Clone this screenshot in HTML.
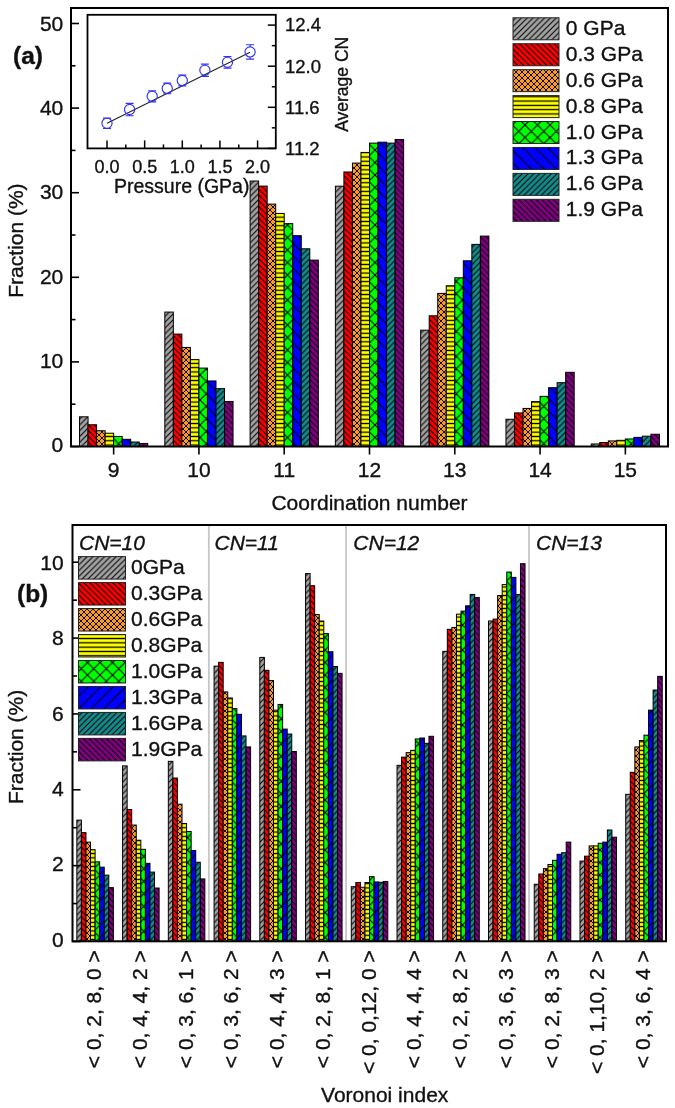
<!DOCTYPE html>
<html><head><meta charset="utf-8"><style>
html,body{margin:0;padding:0;background:#fff;overflow:hidden;width:675px;height:1108px;}
svg{display:block;will-change:transform;}
text{font-family:"Liberation Sans", sans-serif;fill:#111;stroke:#111;stroke-width:0.35px;}
</style></head><body>
<svg width="675" height="1108" viewBox="0 0 675 1108">
<defs>
<pattern id="pa0" patternUnits="userSpaceOnUse" width="5.8" height="5.8"><rect x="0" y="0" width="5.8" height="5.8" fill="#a3a3a3"/><path d="M0,5.8 L5.8,0 M-2.9,2.9 L2.9,-2.9 M2.9,8.7 L8.7,2.9" stroke="#000" stroke-width="1.05" fill="none"/></pattern>
<pattern id="pb0" patternUnits="userSpaceOnUse" width="5.8" height="5.8"><rect x="0" y="0" width="5.8" height="5.8" fill="#a3a3a3"/><path d="M0,5.8 L5.8,0 M-2.9,2.9 L2.9,-2.9 M2.9,8.7 L8.7,2.9" stroke="#000" stroke-width="1.05" fill="none"/></pattern>
<pattern id="pa1" patternUnits="userSpaceOnUse" width="5.8" height="5.8"><rect x="0" y="0" width="5.8" height="5.8" fill="#ff0000"/><path d="M0,0 L5.8,5.8 M-2.9,2.9 L2.9,8.7 M2.9,-2.9 L8.7,2.9" stroke="#000" stroke-width="1.05" fill="none"/></pattern>
<pattern id="pb1" patternUnits="userSpaceOnUse" width="5.8" height="5.8"><rect x="0" y="0" width="5.8" height="5.8" fill="#ff0000"/><path d="M0,0 L5.8,5.8 M-2.9,2.9 L2.9,8.7 M2.9,-2.9 L8.7,2.9" stroke="#000" stroke-width="1.05" fill="none"/></pattern>
<pattern id="pa2" patternUnits="userSpaceOnUse" width="6.0" height="6.0"><rect x="0" y="0" width="6.0" height="6.0" fill="#f59a30"/><path d="M0,6.0 L6.0,0 M-3.0,3.0 L3.0,-3.0 M3.0,9.0 L9.0,3.0 M0,0 L6.0,6.0 M-3.0,3.0 L3.0,9.0 M3.0,-3.0 L9.0,3.0" stroke="#000" stroke-width="0.9" fill="none"/></pattern>
<pattern id="pb2" patternUnits="userSpaceOnUse" width="6.0" height="6.0"><rect x="0" y="0" width="6.0" height="6.0" fill="#f59a30"/><path d="M0,6.0 L6.0,0 M-3.0,3.0 L3.0,-3.0 M3.0,9.0 L9.0,3.0 M0,0 L6.0,6.0 M-3.0,3.0 L3.0,9.0 M3.0,-3.0 L9.0,3.0" stroke="#000" stroke-width="0.9" fill="none"/></pattern>
<pattern id="pa3" patternUnits="userSpaceOnUse" width="4.3" height="4.3"><rect x="0" y="0" width="4.3" height="4.3" fill="#ffff00"/><path d="M-1,2.15 L5.3,2.15" stroke="#000" stroke-width="1.3" fill="none"/></pattern>
<pattern id="pb3" patternUnits="userSpaceOnUse" width="4.3" height="4.3"><rect x="0" y="0" width="4.3" height="4.3" fill="#ffff00"/><path d="M-1,2.15 L5.3,2.15" stroke="#000" stroke-width="1.3" fill="none"/></pattern>
<pattern id="pa4" patternUnits="userSpaceOnUse" width="12.5" height="12.5"><rect x="0" y="0" width="12.5" height="12.5" fill="#00ff00"/><path d="M0,12.5 L12.5,0 M-6.25,6.25 L6.25,-6.25 M6.25,18.75 L18.75,6.25 M0,0 L12.5,12.5 M-6.25,6.25 L6.25,18.75 M6.25,-6.25 L18.75,6.25" stroke="#000" stroke-width="1.05" fill="none"/></pattern>
<pattern id="pb4" patternUnits="userSpaceOnUse" width="12.5" height="12.5"><rect x="0" y="0" width="12.5" height="12.5" fill="#00ff00"/><path d="M0,12.5 L12.5,0 M-6.25,6.25 L6.25,-6.25 M6.25,18.75 L18.75,6.25 M0,0 L12.5,12.5 M-6.25,6.25 L6.25,18.75 M6.25,-6.25 L18.75,6.25" stroke="#000" stroke-width="1.05" fill="none"/></pattern>
<pattern id="pa5" patternUnits="userSpaceOnUse" width="12.5" height="12.5"><rect x="0" y="0" width="12.5" height="12.5" fill="#0000ff"/><path d="M0,0 L12.5,12.5 M-6.25,6.25 L6.25,18.75 M6.25,-6.25 L18.75,6.25" stroke="#000" stroke-width="1.05" fill="none"/></pattern>
<pattern id="pb5" patternUnits="userSpaceOnUse" width="12.5" height="12.5"><rect x="0" y="0" width="12.5" height="12.5" fill="#0000ff"/><path d="M0,12.5 L12.5,0 M-6.25,6.25 L6.25,-6.25 M6.25,18.75 L18.75,6.25" stroke="#000" stroke-width="1.05" fill="none"/></pattern>
<pattern id="pa6" patternUnits="userSpaceOnUse" width="5.8" height="5.8"><rect x="0" y="0" width="5.8" height="5.8" fill="#148c8c"/><path d="M0,5.8 L5.8,0 M-2.9,2.9 L2.9,-2.9 M2.9,8.7 L8.7,2.9" stroke="#000" stroke-width="1.05" fill="none"/></pattern>
<pattern id="pb6" patternUnits="userSpaceOnUse" width="5.8" height="5.8"><rect x="0" y="0" width="5.8" height="5.8" fill="#148c8c"/><path d="M0,5.8 L5.8,0 M-2.9,2.9 L2.9,-2.9 M2.9,8.7 L8.7,2.9" stroke="#000" stroke-width="1.05" fill="none"/></pattern>
<pattern id="pa7" patternUnits="userSpaceOnUse" width="5.8" height="5.8"><rect x="0" y="0" width="5.8" height="5.8" fill="#820082"/><path d="M0,0 L5.8,5.8 M-2.9,2.9 L2.9,8.7 M2.9,-2.9 L8.7,2.9" stroke="#000" stroke-width="1.05" fill="none"/></pattern>
<pattern id="pb7" patternUnits="userSpaceOnUse" width="5.8" height="5.8"><rect x="0" y="0" width="5.8" height="5.8" fill="#820082"/><path d="M0,0 L5.8,5.8 M-2.9,2.9 L2.9,8.7 M2.9,-2.9 L8.7,2.9" stroke="#000" stroke-width="1.05" fill="none"/></pattern>
</defs>
<rect x="0" y="0" width="675" height="1108" fill="#fff"/>
<rect x="79.53" y="416.81" width="8.53" height="29.69" fill="url(#pa0)" stroke="#000" stroke-width="1"/>
<rect x="88.06" y="424.76" width="8.53" height="21.74" fill="url(#pa1)" stroke="#000" stroke-width="1"/>
<rect x="96.59" y="430.76" width="8.53" height="15.74" fill="url(#pa2)" stroke="#000" stroke-width="1"/>
<rect x="105.11" y="433.22" width="8.53" height="13.28" fill="url(#pa3)" stroke="#000" stroke-width="1"/>
<rect x="113.64" y="436.43" width="8.53" height="10.07" fill="url(#pa4)" stroke="#000" stroke-width="1"/>
<rect x="122.17" y="439.31" width="8.53" height="7.19" fill="url(#pa5)" stroke="#000" stroke-width="1"/>
<rect x="130.7" y="442.02" width="8.53" height="4.48" fill="url(#pa6)" stroke="#000" stroke-width="1"/>
<rect x="139.23" y="443.45" width="8.53" height="3.05" fill="url(#pa7)" stroke="#000" stroke-width="1"/>
<rect x="164.81" y="312.07" width="8.53" height="134.43" fill="url(#pa0)" stroke="#000" stroke-width="1"/>
<rect x="173.34" y="334.07" width="8.53" height="112.43" fill="url(#pa1)" stroke="#000" stroke-width="1"/>
<rect x="181.87" y="347.43" width="8.53" height="99.07" fill="url(#pa2)" stroke="#000" stroke-width="1"/>
<rect x="190.4" y="359.62" width="8.53" height="86.88" fill="url(#pa3)" stroke="#000" stroke-width="1"/>
<rect x="198.93" y="368.08" width="8.53" height="78.42" fill="url(#pa4)" stroke="#000" stroke-width="1"/>
<rect x="207.46" y="380.94" width="8.53" height="65.56" fill="url(#pa5)" stroke="#000" stroke-width="1"/>
<rect x="215.99" y="388.63" width="8.53" height="57.87" fill="url(#pa6)" stroke="#000" stroke-width="1"/>
<rect x="224.51" y="401.49" width="8.53" height="45.01" fill="url(#pa7)" stroke="#000" stroke-width="1"/>
<rect x="250.1" y="181.03" width="8.53" height="265.47" fill="url(#pa0)" stroke="#000" stroke-width="1"/>
<rect x="258.63" y="186.1" width="8.53" height="260.4" fill="url(#pa1)" stroke="#000" stroke-width="1"/>
<rect x="267.16" y="204.12" width="8.53" height="242.38" fill="url(#pa2)" stroke="#000" stroke-width="1"/>
<rect x="275.69" y="213.43" width="8.53" height="233.07" fill="url(#pa3)" stroke="#000" stroke-width="1"/>
<rect x="284.21" y="223.66" width="8.53" height="222.84" fill="url(#pa4)" stroke="#000" stroke-width="1"/>
<rect x="292.74" y="235.68" width="8.53" height="210.82" fill="url(#pa5)" stroke="#000" stroke-width="1"/>
<rect x="301.27" y="248.79" width="8.53" height="197.71" fill="url(#pa6)" stroke="#000" stroke-width="1"/>
<rect x="309.8" y="260.13" width="8.53" height="186.37" fill="url(#pa7)" stroke="#000" stroke-width="1"/>
<rect x="335.39" y="186.19" width="8.53" height="260.31" fill="url(#pa0)" stroke="#000" stroke-width="1"/>
<rect x="343.91" y="171.97" width="8.53" height="274.53" fill="url(#pa1)" stroke="#000" stroke-width="1"/>
<rect x="352.44" y="163.09" width="8.53" height="283.41" fill="url(#pa2)" stroke="#000" stroke-width="1"/>
<rect x="360.97" y="152.43" width="8.53" height="294.07" fill="url(#pa3)" stroke="#000" stroke-width="1"/>
<rect x="369.5" y="143.12" width="8.53" height="303.38" fill="url(#pa4)" stroke="#000" stroke-width="1"/>
<rect x="378.03" y="142.19" width="8.53" height="304.31" fill="url(#pa5)" stroke="#000" stroke-width="1"/>
<rect x="386.56" y="143.12" width="8.53" height="303.38" fill="url(#pa6)" stroke="#000" stroke-width="1"/>
<rect x="395.09" y="139.49" width="8.53" height="307.01" fill="url(#pa7)" stroke="#000" stroke-width="1"/>
<rect x="420.67" y="330.17" width="8.53" height="116.33" fill="url(#pa0)" stroke="#000" stroke-width="1"/>
<rect x="429.2" y="315.79" width="8.53" height="130.71" fill="url(#pa1)" stroke="#000" stroke-width="1"/>
<rect x="437.73" y="293.37" width="8.53" height="153.13" fill="url(#pa2)" stroke="#000" stroke-width="1"/>
<rect x="446.26" y="285.76" width="8.53" height="160.74" fill="url(#pa3)" stroke="#000" stroke-width="1"/>
<rect x="454.79" y="277.81" width="8.53" height="168.69" fill="url(#pa4)" stroke="#000" stroke-width="1"/>
<rect x="463.31" y="260.8" width="8.53" height="185.7" fill="url(#pa5)" stroke="#000" stroke-width="1"/>
<rect x="471.84" y="244.39" width="8.53" height="202.11" fill="url(#pa6)" stroke="#000" stroke-width="1"/>
<rect x="480.37" y="236.1" width="8.53" height="210.4" fill="url(#pa7)" stroke="#000" stroke-width="1"/>
<rect x="505.96" y="419.26" width="8.53" height="27.24" fill="url(#pa0)" stroke="#000" stroke-width="1"/>
<rect x="514.49" y="412.91" width="8.53" height="33.59" fill="url(#pa1)" stroke="#000" stroke-width="1"/>
<rect x="523.01" y="408.43" width="8.53" height="38.07" fill="url(#pa2)" stroke="#000" stroke-width="1"/>
<rect x="531.54" y="401.58" width="8.53" height="44.92" fill="url(#pa3)" stroke="#000" stroke-width="1"/>
<rect x="540.07" y="396.33" width="8.53" height="50.17" fill="url(#pa4)" stroke="#000" stroke-width="1"/>
<rect x="548.6" y="387.7" width="8.53" height="58.8" fill="url(#pa5)" stroke="#000" stroke-width="1"/>
<rect x="557.13" y="382.71" width="8.53" height="63.79" fill="url(#pa6)" stroke="#000" stroke-width="1"/>
<rect x="565.66" y="372.31" width="8.53" height="74.19" fill="url(#pa7)" stroke="#000" stroke-width="1"/>
<rect x="591.24" y="443.96" width="8.53" height="2.54" fill="url(#pa0)" stroke="#000" stroke-width="1"/>
<rect x="599.77" y="442.52" width="8.53" height="3.98" fill="url(#pa1)" stroke="#000" stroke-width="1"/>
<rect x="608.3" y="440.92" width="8.53" height="5.58" fill="url(#pa2)" stroke="#000" stroke-width="1"/>
<rect x="616.83" y="440.32" width="8.53" height="6.18" fill="url(#pa3)" stroke="#000" stroke-width="1"/>
<rect x="625.36" y="438.97" width="8.53" height="7.53" fill="url(#pa4)" stroke="#000" stroke-width="1"/>
<rect x="633.89" y="437.36" width="8.53" height="9.14" fill="url(#pa5)" stroke="#000" stroke-width="1"/>
<rect x="642.41" y="436.18" width="8.53" height="10.32" fill="url(#pa6)" stroke="#000" stroke-width="1"/>
<rect x="650.94" y="434.23" width="8.53" height="12.27" fill="url(#pa7)" stroke="#000" stroke-width="1"/>
<line x1="71" y1="446.5" x2="79" y2="446.5" stroke="#000" stroke-width="1.6"/>
<text x="63.3" y="452.3" font-size="21" text-anchor="end">0</text>
<line x1="71" y1="404.2" x2="75.5" y2="404.2" stroke="#000" stroke-width="1.6"/>
<line x1="71" y1="361.9" x2="79" y2="361.9" stroke="#000" stroke-width="1.6"/>
<text x="63.3" y="367.97" font-size="21" text-anchor="end">10</text>
<line x1="71" y1="319.6" x2="75.5" y2="319.6" stroke="#000" stroke-width="1.6"/>
<line x1="71" y1="277.3" x2="79" y2="277.3" stroke="#000" stroke-width="1.6"/>
<text x="63.3" y="283.64" font-size="21" text-anchor="end">20</text>
<line x1="71" y1="235" x2="75.5" y2="235" stroke="#000" stroke-width="1.6"/>
<line x1="71" y1="192.7" x2="79" y2="192.7" stroke="#000" stroke-width="1.6"/>
<text x="63.3" y="199.31" font-size="21" text-anchor="end">30</text>
<line x1="71" y1="150.4" x2="75.5" y2="150.4" stroke="#000" stroke-width="1.6"/>
<line x1="71" y1="108.1" x2="79" y2="108.1" stroke="#000" stroke-width="1.6"/>
<text x="63.3" y="114.98" font-size="21" text-anchor="end">40</text>
<line x1="71" y1="65.8" x2="75.5" y2="65.8" stroke="#000" stroke-width="1.6"/>
<line x1="71" y1="23.5" x2="79" y2="23.5" stroke="#000" stroke-width="1.6"/>
<text x="63.3" y="30.65" font-size="21" text-anchor="end">50</text>
<line x1="113.64" y1="446.5" x2="113.64" y2="454.5" stroke="#000" stroke-width="1.6"/>
<text x="113.64" y="476.5" font-size="21" text-anchor="middle">9</text>
<line x1="198.93" y1="446.5" x2="198.93" y2="454.5" stroke="#000" stroke-width="1.6"/>
<text x="198.93" y="476.5" font-size="21" text-anchor="middle">10</text>
<line x1="284.21" y1="446.5" x2="284.21" y2="454.5" stroke="#000" stroke-width="1.6"/>
<text x="284.21" y="476.5" font-size="21" text-anchor="middle">11</text>
<line x1="369.5" y1="446.5" x2="369.5" y2="454.5" stroke="#000" stroke-width="1.6"/>
<text x="369.5" y="476.5" font-size="21" text-anchor="middle">12</text>
<line x1="454.79" y1="446.5" x2="454.79" y2="454.5" stroke="#000" stroke-width="1.6"/>
<text x="454.79" y="476.5" font-size="21" text-anchor="middle">13</text>
<line x1="540.07" y1="446.5" x2="540.07" y2="454.5" stroke="#000" stroke-width="1.6"/>
<text x="540.07" y="476.5" font-size="21" text-anchor="middle">14</text>
<line x1="625.36" y1="446.5" x2="625.36" y2="454.5" stroke="#000" stroke-width="1.6"/>
<text x="625.36" y="476.5" font-size="21" text-anchor="middle">15</text>
<rect x="71" y="8" width="597" height="438.5" fill="none" stroke="#000" stroke-width="2"/>
<text x="369.5" y="510" font-size="21" text-anchor="middle">Coordination number</text>
<text transform="translate(23,240.6) rotate(-90)" font-size="21" text-anchor="middle">Fraction (%)</text>
<text x="13" y="63.5" font-size="24.5" font-weight="bold">(a)</text>
<rect x="513" y="17.8" width="46" height="22" fill="url(#pa0)" stroke="#222" stroke-width="1"/>
<text x="565.8" y="34.8" font-size="21">0 GPa</text>
<rect x="513" y="43.73" width="46" height="22" fill="url(#pa1)" stroke="#222" stroke-width="1"/>
<text x="565.8" y="60.73" font-size="21">0.3 GPa</text>
<rect x="513" y="69.66" width="46" height="22" fill="url(#pa2)" stroke="#222" stroke-width="1"/>
<text x="565.8" y="86.66" font-size="21">0.6 GPa</text>
<rect x="513" y="95.59" width="46" height="22" fill="url(#pa3)" stroke="#222" stroke-width="1"/>
<text x="565.8" y="112.59" font-size="21">0.8 GPa</text>
<rect x="513" y="121.52" width="46" height="22" fill="url(#pa4)" stroke="#222" stroke-width="1"/>
<text x="565.8" y="138.52" font-size="21">1.0 GPa</text>
<rect x="513" y="147.45" width="46" height="22" fill="url(#pa5)" stroke="#222" stroke-width="1"/>
<text x="565.8" y="164.45" font-size="21">1.3 GPa</text>
<rect x="513" y="173.38" width="46" height="22" fill="url(#pa6)" stroke="#222" stroke-width="1"/>
<text x="565.8" y="190.38" font-size="21">1.6 GPa</text>
<rect x="513" y="199.31" width="46" height="22" fill="url(#pa7)" stroke="#222" stroke-width="1"/>
<text x="565.8" y="216.31" font-size="21">1.9 GPa</text>
<rect x="87.5" y="14.8" width="188.3" height="133.6" fill="#fff" stroke="#000" stroke-width="1.8"/>
<line x1="107" y1="148.4" x2="107" y2="140.4" stroke="#000" stroke-width="1.5"/>
<text x="107" y="172.8" font-size="18" text-anchor="middle">0.0</text>
<line x1="125.83" y1="148.4" x2="125.83" y2="144.4" stroke="#000" stroke-width="1.5"/>
<line x1="144.65" y1="148.4" x2="144.65" y2="140.4" stroke="#000" stroke-width="1.5"/>
<text x="144.65" y="172.8" font-size="18" text-anchor="middle">0.5</text>
<line x1="163.47" y1="148.4" x2="163.47" y2="144.4" stroke="#000" stroke-width="1.5"/>
<line x1="182.3" y1="148.4" x2="182.3" y2="140.4" stroke="#000" stroke-width="1.5"/>
<text x="182.3" y="172.8" font-size="18" text-anchor="middle">1.0</text>
<line x1="201.12" y1="148.4" x2="201.12" y2="144.4" stroke="#000" stroke-width="1.5"/>
<line x1="219.95" y1="148.4" x2="219.95" y2="140.4" stroke="#000" stroke-width="1.5"/>
<text x="219.95" y="172.8" font-size="18" text-anchor="middle">1.5</text>
<line x1="238.78" y1="148.4" x2="238.78" y2="144.4" stroke="#000" stroke-width="1.5"/>
<line x1="257.6" y1="148.4" x2="257.6" y2="140.4" stroke="#000" stroke-width="1.5"/>
<text x="257.6" y="172.8" font-size="18" text-anchor="middle">2.0</text>
<line x1="275.8" y1="148.4" x2="267.8" y2="148.4" stroke="#000" stroke-width="1.5"/>
<text x="285" y="154.7" font-size="18.5">11.2</text>
<line x1="275.8" y1="127.85" x2="271.8" y2="127.85" stroke="#000" stroke-width="1.5"/>
<line x1="275.8" y1="107.3" x2="267.8" y2="107.3" stroke="#000" stroke-width="1.5"/>
<text x="285" y="113.6" font-size="18.5">11.6</text>
<line x1="275.8" y1="86.75" x2="271.8" y2="86.75" stroke="#000" stroke-width="1.5"/>
<line x1="275.8" y1="66.2" x2="267.8" y2="66.2" stroke="#000" stroke-width="1.5"/>
<text x="285" y="72.5" font-size="18.5">12.0</text>
<line x1="275.8" y1="45.65" x2="271.8" y2="45.65" stroke="#000" stroke-width="1.5"/>
<line x1="275.8" y1="25.1" x2="267.8" y2="25.1" stroke="#000" stroke-width="1.5"/>
<text x="285" y="31.4" font-size="18.5">12.4</text>
<text x="181.7" y="193" font-size="19.5" text-anchor="middle">Pressure (GPa)</text>
<text transform="translate(347.5,84.3) rotate(-90)" font-size="17.5" text-anchor="middle">Average CN</text>
<line x1="107" y1="123.3" x2="250" y2="52.2" stroke="#222" stroke-width="1.1"/>
<circle cx="107" cy="123.3" r="5.1" fill="none" stroke="#3232f0" stroke-width="1.15"/>
<path d="M103,118.1 H111 M103,128.5 H111" stroke="#3232f0" stroke-width="1.15" fill="none"/>
<circle cx="129.59" cy="109.5" r="5.1" fill="none" stroke="#3232f0" stroke-width="1.15"/>
<path d="M125.59,103.3 H133.59 M125.59,115.7 H133.59 M129.59,103.3 V104.4 M129.59,114.6 V115.7" stroke="#3232f0" stroke-width="1.15" fill="none"/>
<circle cx="152.18" cy="96.3" r="5.1" fill="none" stroke="#3232f0" stroke-width="1.15"/>
<path d="M148.18,90.8 H156.18 M148.18,101.8 H156.18" stroke="#3232f0" stroke-width="1.15" fill="none"/>
<circle cx="167.24" cy="88.4" r="5.1" fill="none" stroke="#3232f0" stroke-width="1.15"/>
<path d="M163.24,83.1 H171.24 M163.24,93.7 H171.24" stroke="#3232f0" stroke-width="1.15" fill="none"/>
<circle cx="182.3" cy="80.5" r="5.1" fill="none" stroke="#3232f0" stroke-width="1.15"/>
<path d="M178.3,75.1 H186.3 M178.3,85.9 H186.3" stroke="#3232f0" stroke-width="1.15" fill="none"/>
<circle cx="204.89" cy="70.3" r="5.1" fill="none" stroke="#3232f0" stroke-width="1.15"/>
<path d="M200.89,64.2 H208.89 M200.89,76.4 H208.89 M204.89,64.2 V65.2 M204.89,75.4 V76.4" stroke="#3232f0" stroke-width="1.15" fill="none"/>
<circle cx="227.48" cy="62.3" r="5.1" fill="none" stroke="#3232f0" stroke-width="1.15"/>
<path d="M223.48,56.5 H231.48 M223.48,68.1 H231.48 M227.48,56.5 V57.2 M227.48,67.4 V68.1" stroke="#3232f0" stroke-width="1.15" fill="none"/>
<circle cx="250.07" cy="51.9" r="5.1" fill="none" stroke="#3232f0" stroke-width="1.15"/>
<path d="M246.07,44.7 H254.07 M246.07,59.1 H254.07 M250.07,44.7 V46.8 M250.07,57 V59.1" stroke="#3232f0" stroke-width="1.15" fill="none"/>
<rect x="76.84" y="820.12" width="4.57" height="121.18" fill="url(#pb0)" stroke="#000" stroke-width="1"/>
<rect x="81.4" y="832.64" width="4.57" height="108.66" fill="url(#pb1)" stroke="#000" stroke-width="1"/>
<rect x="85.97" y="842.12" width="4.57" height="99.18" fill="url(#pb2)" stroke="#000" stroke-width="1"/>
<rect x="90.53" y="849.71" width="4.57" height="91.59" fill="url(#pb3)" stroke="#000" stroke-width="1"/>
<rect x="95.1" y="861.85" width="4.57" height="79.45" fill="url(#pb4)" stroke="#000" stroke-width="1"/>
<rect x="99.67" y="867.16" width="4.57" height="74.14" fill="url(#pb5)" stroke="#000" stroke-width="1"/>
<rect x="104.23" y="875.12" width="4.57" height="66.18" fill="url(#pb6)" stroke="#000" stroke-width="1"/>
<rect x="108.8" y="887.64" width="4.57" height="53.66" fill="url(#pb7)" stroke="#000" stroke-width="1"/>
<rect x="122.58" y="765.88" width="4.57" height="175.42" fill="url(#pb0)" stroke="#000" stroke-width="1"/>
<rect x="127.14" y="809.5" width="4.57" height="131.8" fill="url(#pb1)" stroke="#000" stroke-width="1"/>
<rect x="131.71" y="825.05" width="4.57" height="116.25" fill="url(#pb2)" stroke="#000" stroke-width="1"/>
<rect x="136.27" y="840.23" width="4.57" height="101.07" fill="url(#pb3)" stroke="#000" stroke-width="1"/>
<rect x="140.84" y="849.33" width="4.57" height="91.97" fill="url(#pb4)" stroke="#000" stroke-width="1"/>
<rect x="145.41" y="863.36" width="4.57" height="77.94" fill="url(#pb5)" stroke="#000" stroke-width="1"/>
<rect x="149.97" y="872.09" width="4.57" height="69.21" fill="url(#pb6)" stroke="#000" stroke-width="1"/>
<rect x="154.54" y="888.02" width="4.57" height="53.28" fill="url(#pb7)" stroke="#000" stroke-width="1"/>
<rect x="168.32" y="761.33" width="4.57" height="179.97" fill="url(#pb0)" stroke="#000" stroke-width="1"/>
<rect x="172.88" y="778.02" width="4.57" height="163.28" fill="url(#pb1)" stroke="#000" stroke-width="1"/>
<rect x="177.45" y="804.19" width="4.57" height="137.11" fill="url(#pb2)" stroke="#000" stroke-width="1"/>
<rect x="182.01" y="823.54" width="4.57" height="117.76" fill="url(#pb3)" stroke="#000" stroke-width="1"/>
<rect x="186.58" y="831.5" width="4.57" height="109.8" fill="url(#pb4)" stroke="#000" stroke-width="1"/>
<rect x="191.15" y="850.47" width="4.57" height="90.83" fill="url(#pb5)" stroke="#000" stroke-width="1"/>
<rect x="195.71" y="862.23" width="4.57" height="79.07" fill="url(#pb6)" stroke="#000" stroke-width="1"/>
<rect x="200.28" y="878.92" width="4.57" height="62.38" fill="url(#pb7)" stroke="#000" stroke-width="1"/>
<rect x="214.06" y="666.13" width="4.57" height="275.17" fill="url(#pb0)" stroke="#000" stroke-width="1"/>
<rect x="218.62" y="662.34" width="4.57" height="278.96" fill="url(#pb1)" stroke="#000" stroke-width="1"/>
<rect x="223.19" y="691.92" width="4.57" height="249.38" fill="url(#pb2)" stroke="#000" stroke-width="1"/>
<rect x="227.75" y="697.99" width="4.57" height="243.31" fill="url(#pb3)" stroke="#000" stroke-width="1"/>
<rect x="232.32" y="708.61" width="4.57" height="232.69" fill="url(#pb4)" stroke="#000" stroke-width="1"/>
<rect x="236.89" y="714.3" width="4.57" height="227" fill="url(#pb5)" stroke="#000" stroke-width="1"/>
<rect x="241.45" y="735.92" width="4.57" height="205.38" fill="url(#pb6)" stroke="#000" stroke-width="1"/>
<rect x="246.02" y="746.92" width="4.57" height="194.38" fill="url(#pb7)" stroke="#000" stroke-width="1"/>
<rect x="259.8" y="657.4" width="4.57" height="283.9" fill="url(#pb0)" stroke="#000" stroke-width="1"/>
<rect x="264.36" y="670.3" width="4.57" height="271" fill="url(#pb1)" stroke="#000" stroke-width="1"/>
<rect x="268.93" y="680.54" width="4.57" height="260.76" fill="url(#pb2)" stroke="#000" stroke-width="1"/>
<rect x="273.49" y="710.13" width="4.57" height="231.17" fill="url(#pb3)" stroke="#000" stroke-width="1"/>
<rect x="278.06" y="704.44" width="4.57" height="236.86" fill="url(#pb4)" stroke="#000" stroke-width="1"/>
<rect x="282.63" y="729.09" width="4.57" height="212.21" fill="url(#pb5)" stroke="#000" stroke-width="1"/>
<rect x="287.19" y="734.02" width="4.57" height="207.28" fill="url(#pb6)" stroke="#000" stroke-width="1"/>
<rect x="291.76" y="751.47" width="4.57" height="189.83" fill="url(#pb7)" stroke="#000" stroke-width="1"/>
<rect x="305.54" y="573.58" width="4.57" height="367.72" fill="url(#pb0)" stroke="#000" stroke-width="1"/>
<rect x="310.1" y="585.72" width="4.57" height="355.58" fill="url(#pb1)" stroke="#000" stroke-width="1"/>
<rect x="314.67" y="614.54" width="4.57" height="326.76" fill="url(#pb2)" stroke="#000" stroke-width="1"/>
<rect x="319.23" y="620.99" width="4.57" height="320.31" fill="url(#pb3)" stroke="#000" stroke-width="1"/>
<rect x="323.8" y="633.51" width="4.57" height="307.79" fill="url(#pb4)" stroke="#000" stroke-width="1"/>
<rect x="328.37" y="651.71" width="4.57" height="289.59" fill="url(#pb5)" stroke="#000" stroke-width="1"/>
<rect x="332.93" y="666.51" width="4.57" height="274.79" fill="url(#pb6)" stroke="#000" stroke-width="1"/>
<rect x="337.5" y="673.33" width="4.57" height="267.97" fill="url(#pb7)" stroke="#000" stroke-width="1"/>
<rect x="351.28" y="886.69" width="4.57" height="54.61" fill="url(#pb0)" stroke="#000" stroke-width="1"/>
<rect x="355.84" y="882.52" width="4.57" height="58.78" fill="url(#pb1)" stroke="#000" stroke-width="1"/>
<rect x="360.41" y="887.26" width="4.57" height="54.04" fill="url(#pb2)" stroke="#000" stroke-width="1"/>
<rect x="364.97" y="882.52" width="4.57" height="58.78" fill="url(#pb3)" stroke="#000" stroke-width="1"/>
<rect x="369.54" y="876.64" width="4.57" height="64.66" fill="url(#pb4)" stroke="#000" stroke-width="1"/>
<rect x="374.11" y="881.95" width="4.57" height="59.35" fill="url(#pb5)" stroke="#000" stroke-width="1"/>
<rect x="378.67" y="882.33" width="4.57" height="58.97" fill="url(#pb6)" stroke="#000" stroke-width="1"/>
<rect x="383.24" y="881.57" width="4.57" height="59.73" fill="url(#pb7)" stroke="#000" stroke-width="1"/>
<rect x="397.02" y="765.32" width="4.57" height="175.98" fill="url(#pb0)" stroke="#000" stroke-width="1"/>
<rect x="401.58" y="757.16" width="4.57" height="184.14" fill="url(#pb1)" stroke="#000" stroke-width="1"/>
<rect x="406.15" y="752.61" width="4.57" height="188.69" fill="url(#pb2)" stroke="#000" stroke-width="1"/>
<rect x="410.71" y="750.33" width="4.57" height="190.97" fill="url(#pb3)" stroke="#000" stroke-width="1"/>
<rect x="415.28" y="738.95" width="4.57" height="202.35" fill="url(#pb4)" stroke="#000" stroke-width="1"/>
<rect x="419.85" y="738.01" width="4.57" height="203.29" fill="url(#pb5)" stroke="#000" stroke-width="1"/>
<rect x="424.41" y="743.32" width="4.57" height="197.98" fill="url(#pb6)" stroke="#000" stroke-width="1"/>
<rect x="428.98" y="736.3" width="4.57" height="205" fill="url(#pb7)" stroke="#000" stroke-width="1"/>
<rect x="442.76" y="651.34" width="4.57" height="289.96" fill="url(#pb0)" stroke="#000" stroke-width="1"/>
<rect x="447.32" y="629.34" width="4.57" height="311.96" fill="url(#pb1)" stroke="#000" stroke-width="1"/>
<rect x="451.89" y="627.44" width="4.57" height="313.86" fill="url(#pb2)" stroke="#000" stroke-width="1"/>
<rect x="456.45" y="614.16" width="4.57" height="327.14" fill="url(#pb3)" stroke="#000" stroke-width="1"/>
<rect x="461.02" y="611.13" width="4.57" height="330.17" fill="url(#pb4)" stroke="#000" stroke-width="1"/>
<rect x="465.59" y="605.82" width="4.57" height="335.48" fill="url(#pb5)" stroke="#000" stroke-width="1"/>
<rect x="470.15" y="594.44" width="4.57" height="346.86" fill="url(#pb6)" stroke="#000" stroke-width="1"/>
<rect x="474.72" y="597.47" width="4.57" height="343.83" fill="url(#pb7)" stroke="#000" stroke-width="1"/>
<rect x="488.5" y="620.99" width="4.57" height="320.31" fill="url(#pb0)" stroke="#000" stroke-width="1"/>
<rect x="493.06" y="619.1" width="4.57" height="322.2" fill="url(#pb1)" stroke="#000" stroke-width="1"/>
<rect x="497.63" y="595.58" width="4.57" height="345.72" fill="url(#pb2)" stroke="#000" stroke-width="1"/>
<rect x="502.19" y="584.58" width="4.57" height="356.72" fill="url(#pb3)" stroke="#000" stroke-width="1"/>
<rect x="506.76" y="572.06" width="4.57" height="369.24" fill="url(#pb4)" stroke="#000" stroke-width="1"/>
<rect x="511.33" y="577.37" width="4.57" height="363.93" fill="url(#pb5)" stroke="#000" stroke-width="1"/>
<rect x="515.89" y="594.44" width="4.57" height="346.86" fill="url(#pb6)" stroke="#000" stroke-width="1"/>
<rect x="520.46" y="563.72" width="4.57" height="377.58" fill="url(#pb7)" stroke="#000" stroke-width="1"/>
<rect x="534.24" y="884.23" width="4.57" height="57.07" fill="url(#pb0)" stroke="#000" stroke-width="1"/>
<rect x="538.8" y="873.98" width="4.57" height="67.32" fill="url(#pb1)" stroke="#000" stroke-width="1"/>
<rect x="543.37" y="868.67" width="4.57" height="72.63" fill="url(#pb2)" stroke="#000" stroke-width="1"/>
<rect x="547.93" y="864.5" width="4.57" height="76.8" fill="url(#pb3)" stroke="#000" stroke-width="1"/>
<rect x="552.5" y="860.33" width="4.57" height="80.97" fill="url(#pb4)" stroke="#000" stroke-width="1"/>
<rect x="557.07" y="854.26" width="4.57" height="87.04" fill="url(#pb5)" stroke="#000" stroke-width="1"/>
<rect x="561.63" y="852.74" width="4.57" height="88.56" fill="url(#pb6)" stroke="#000" stroke-width="1"/>
<rect x="566.2" y="842.12" width="4.57" height="99.18" fill="url(#pb7)" stroke="#000" stroke-width="1"/>
<rect x="579.98" y="861.09" width="4.57" height="80.21" fill="url(#pb0)" stroke="#000" stroke-width="1"/>
<rect x="584.54" y="856.16" width="4.57" height="85.14" fill="url(#pb1)" stroke="#000" stroke-width="1"/>
<rect x="589.11" y="845.92" width="4.57" height="95.38" fill="url(#pb2)" stroke="#000" stroke-width="1"/>
<rect x="593.67" y="845.92" width="4.57" height="95.38" fill="url(#pb3)" stroke="#000" stroke-width="1"/>
<rect x="598.24" y="843.26" width="4.57" height="98.04" fill="url(#pb4)" stroke="#000" stroke-width="1"/>
<rect x="602.81" y="842.12" width="4.57" height="99.18" fill="url(#pb5)" stroke="#000" stroke-width="1"/>
<rect x="607.37" y="829.99" width="4.57" height="111.31" fill="url(#pb6)" stroke="#000" stroke-width="1"/>
<rect x="611.94" y="837.19" width="4.57" height="104.11" fill="url(#pb7)" stroke="#000" stroke-width="1"/>
<rect x="625.72" y="794.33" width="4.57" height="146.97" fill="url(#pb0)" stroke="#000" stroke-width="1"/>
<rect x="630.28" y="772.33" width="4.57" height="168.97" fill="url(#pb1)" stroke="#000" stroke-width="1"/>
<rect x="634.85" y="746.92" width="4.57" height="194.38" fill="url(#pb2)" stroke="#000" stroke-width="1"/>
<rect x="639.41" y="740.47" width="4.57" height="200.83" fill="url(#pb3)" stroke="#000" stroke-width="1"/>
<rect x="643.98" y="735.16" width="4.57" height="206.14" fill="url(#pb4)" stroke="#000" stroke-width="1"/>
<rect x="648.55" y="710.13" width="4.57" height="231.17" fill="url(#pb5)" stroke="#000" stroke-width="1"/>
<rect x="653.11" y="690.02" width="4.57" height="251.28" fill="url(#pb6)" stroke="#000" stroke-width="1"/>
<rect x="657.68" y="676.37" width="4.57" height="264.93" fill="url(#pb7)" stroke="#000" stroke-width="1"/>
<line x1="208.85" y1="525" x2="208.85" y2="941.3" stroke="#c6c6c6" stroke-width="1.8"/>
<line x1="346.07" y1="525" x2="346.07" y2="941.3" stroke="#c6c6c6" stroke-width="1.8"/>
<line x1="529.03" y1="525" x2="529.03" y2="941.3" stroke="#c6c6c6" stroke-width="1.8"/>
<line x1="72.5" y1="941.5" x2="80.5" y2="941.5" stroke="#000" stroke-width="1.6"/>
<text x="63.6" y="946.9" font-size="21" text-anchor="end">0</text>
<line x1="72.5" y1="903.57" x2="77" y2="903.57" stroke="#000" stroke-width="1.6"/>
<line x1="72.5" y1="865.64" x2="80.5" y2="865.64" stroke="#000" stroke-width="1.6"/>
<text x="63.6" y="871.44" font-size="21" text-anchor="end">2</text>
<line x1="72.5" y1="827.71" x2="77" y2="827.71" stroke="#000" stroke-width="1.6"/>
<line x1="72.5" y1="789.78" x2="80.5" y2="789.78" stroke="#000" stroke-width="1.6"/>
<text x="63.6" y="795.98" font-size="21" text-anchor="end">4</text>
<line x1="72.5" y1="751.85" x2="77" y2="751.85" stroke="#000" stroke-width="1.6"/>
<line x1="72.5" y1="713.92" x2="80.5" y2="713.92" stroke="#000" stroke-width="1.6"/>
<text x="63.6" y="720.52" font-size="21" text-anchor="end">6</text>
<line x1="72.5" y1="675.99" x2="77" y2="675.99" stroke="#000" stroke-width="1.6"/>
<line x1="72.5" y1="638.06" x2="80.5" y2="638.06" stroke="#000" stroke-width="1.6"/>
<text x="63.6" y="645.06" font-size="21" text-anchor="end">8</text>
<line x1="72.5" y1="600.13" x2="77" y2="600.13" stroke="#000" stroke-width="1.6"/>
<line x1="72.5" y1="562.2" x2="80.5" y2="562.2" stroke="#000" stroke-width="1.6"/>
<text x="63.6" y="569.6" font-size="21" text-anchor="end">10</text>
<text transform="translate(101.1,950.3) rotate(-90)" font-size="21" text-anchor="end" xml:space="preserve">&lt; 0, 2, 8, 0 &gt;</text>
<text transform="translate(146.84,950.3) rotate(-90)" font-size="21" text-anchor="end" xml:space="preserve">&lt; 0, 4, 4, 2 &gt;</text>
<text transform="translate(192.58,950.3) rotate(-90)" font-size="21" text-anchor="end" xml:space="preserve">&lt; 0, 3, 6, 1 &gt;</text>
<text transform="translate(238.32,950.3) rotate(-90)" font-size="21" text-anchor="end" xml:space="preserve">&lt; 0, 3, 6, 2 &gt;</text>
<text transform="translate(284.06,950.3) rotate(-90)" font-size="21" text-anchor="end" xml:space="preserve">&lt; 0, 4, 4, 3 &gt;</text>
<text transform="translate(329.8,950.3) rotate(-90)" font-size="21" text-anchor="end" xml:space="preserve">&lt; 0, 2, 8, 1 &gt;</text>
<text transform="translate(375.54,950.3) rotate(-90)" font-size="21" text-anchor="end" xml:space="preserve">&lt; 0, 0,12, 0 &gt;</text>
<text transform="translate(421.28,950.3) rotate(-90)" font-size="21" text-anchor="end" xml:space="preserve">&lt; 0, 4, 4, 4 &gt;</text>
<text transform="translate(467.02,950.3) rotate(-90)" font-size="21" text-anchor="end" xml:space="preserve">&lt; 0, 2, 8, 2 &gt;</text>
<text transform="translate(512.76,950.3) rotate(-90)" font-size="21" text-anchor="end" xml:space="preserve">&lt; 0, 3, 6, 3 &gt;</text>
<text transform="translate(558.5,950.3) rotate(-90)" font-size="21" text-anchor="end" xml:space="preserve">&lt; 0, 2, 8, 3 &gt;</text>
<text transform="translate(604.24,950.3) rotate(-90)" font-size="21" text-anchor="end" xml:space="preserve">&lt; 0, 1,10, 2 &gt;</text>
<text transform="translate(649.98,950.3) rotate(-90)" font-size="21" text-anchor="end" xml:space="preserve">&lt; 0, 3, 6, 4 &gt;</text>
<rect x="72.5" y="525" width="593.5" height="416.3" fill="none" stroke="#000" stroke-width="2"/>
<text x="384.7" y="1101.5" font-size="21" text-anchor="middle">Voronoi index</text>
<text transform="translate(23,746.9) rotate(-90)" font-size="21" text-anchor="middle">Fraction (%)</text>
<text x="17" y="601.6" font-size="24.5" font-weight="bold">(b)</text>
<text x="79" y="550.3" font-size="21" font-style="italic">CN=10</text>
<text x="214.5" y="550.3" font-size="21" font-style="italic">CN=11</text>
<text x="353.3" y="550.3" font-size="21" font-style="italic">CN=12</text>
<text x="536" y="550.3" font-size="21" font-style="italic">CN=13</text>
<rect x="78.5" y="556.6" width="47" height="22.5" fill="url(#pb0)" stroke="#222" stroke-width="1"/>
<text x="131" y="574.1" font-size="21">0GPa</text>
<rect x="78.5" y="582.57" width="47" height="22.5" fill="url(#pb1)" stroke="#222" stroke-width="1"/>
<text x="131" y="600.07" font-size="21">0.3GPa</text>
<rect x="78.5" y="608.54" width="47" height="22.5" fill="url(#pb2)" stroke="#222" stroke-width="1"/>
<text x="131" y="626.04" font-size="21">0.6GPa</text>
<rect x="78.5" y="634.51" width="47" height="22.5" fill="url(#pb3)" stroke="#222" stroke-width="1"/>
<text x="131" y="652.01" font-size="21">0.8GPa</text>
<rect x="78.5" y="660.48" width="47" height="22.5" fill="url(#pb4)" stroke="#222" stroke-width="1"/>
<text x="131" y="677.98" font-size="21">1.0GPa</text>
<rect x="78.5" y="686.45" width="47" height="22.5" fill="url(#pb5)" stroke="#222" stroke-width="1"/>
<text x="131" y="703.95" font-size="21">1.3GPa</text>
<rect x="78.5" y="712.42" width="47" height="22.5" fill="url(#pb6)" stroke="#222" stroke-width="1"/>
<text x="131" y="729.92" font-size="21">1.6GPa</text>
<rect x="78.5" y="738.39" width="47" height="22.5" fill="url(#pb7)" stroke="#222" stroke-width="1"/>
<text x="131" y="755.89" font-size="21">1.9GPa</text>
</svg>
</body></html>
